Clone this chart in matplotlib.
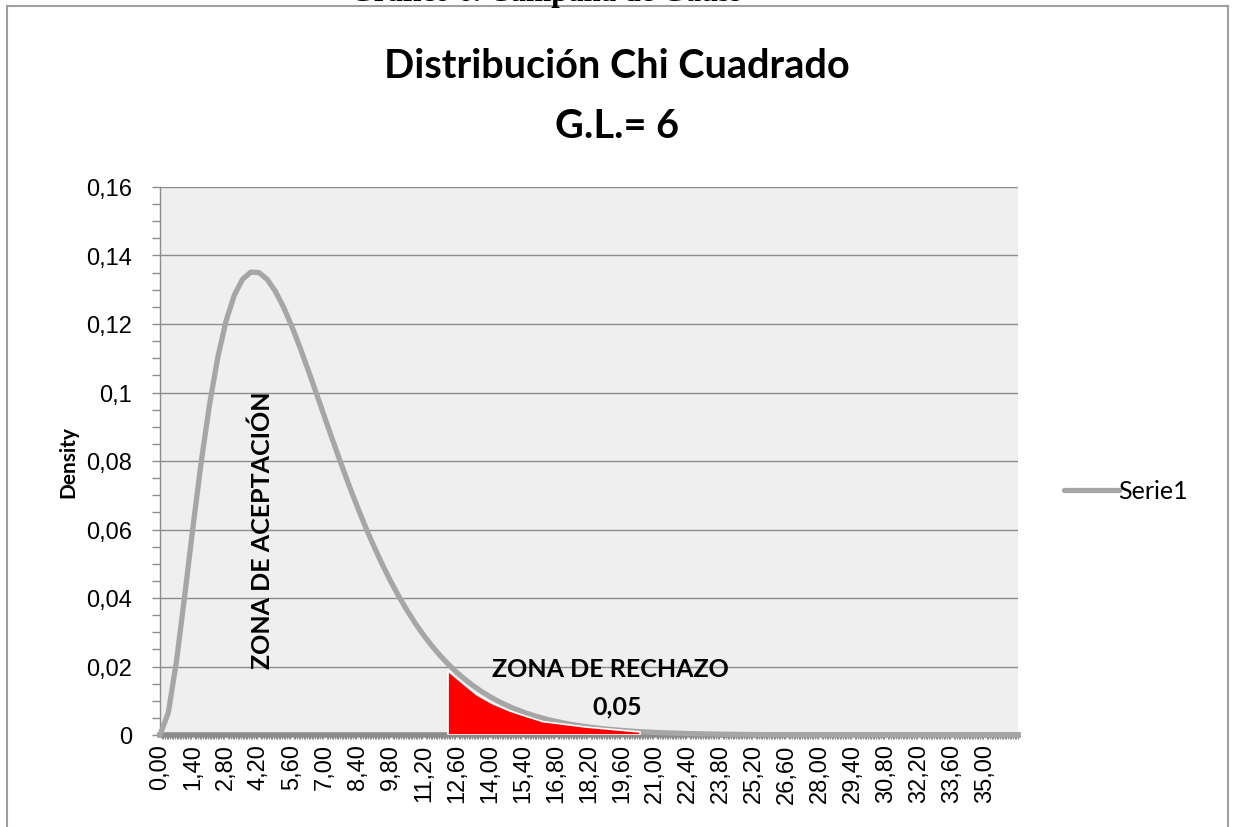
import numpy as np
import matplotlib
matplotlib.use("Agg")
import matplotlib.pyplot as plt
from matplotlib.lines import Line2D
from matplotlib.ticker import MultipleLocator, FixedLocator

# ---- data ----
x_step = 0.35
density = [0.0, 0.00643, 0.02158, 0.04076, 0.06083, 0.07979, 0.09645, 0.11021,
           0.12083, 0.12838, 0.13304, 0.13514, 0.13501, 0.13301, 0.12949,
           0.12479, 0.11919, 0.11295, 0.10630, 0.09942, 0.09248, 0.08559,
           0.07886, 0.07235, 0.06613, 0.06024, 0.05469, 0.04951, 0.04470,
           0.04025, 0.03616, 0.03241, 0.02899, 0.02588, 0.02306, 0.02052,
           0.01822, 0.01616, 0.01431, 0.01265, 0.01117, 0.00985, 0.00868,
           0.00764, 0.00671, 0.00589, 0.00517, 0.00453, 0.00397, 0.00347,
           0.00303, 0.00265, 0.00231, 0.00202, 0.00176, 0.00153, 0.00133,
           0.00116, 0.00101, 0.00087, 0.00076, 0.00066, 0.00057, 0.00050,
           0.00043, 0.00037, 0.00032, 0.00028, 0.00024, 0.00021, 0.00018,
           0.00016, 0.00013, 0.00012, 0.00010, 0.00009, 0.00007, 0.00006,
           0.00005, 0.00005, 0.00004, 0.00004, 0.00003, 0.00003, 0.00002,
           0.00002, 0.00002, 0.00001, 0.00001, 0.00001, 0.00001, 0.00001,
           0.00001, 0.0, 0.0, 0.0, 0.0, 0.0, 0.0, 0.0, 0.0, 0.0, 0.0, 0.0, 0.0]
x_vals = np.round(np.arange(len(density)) * x_step, 2)

xtick_vals = [0.0, 1.4, 2.8, 4.2, 5.6, 7.0, 8.4, 9.8, 11.2, 12.6, 14.0, 15.4,
              16.8, 18.2, 19.6, 21.0, 22.4, 23.8, 25.2, 26.6, 28.0, 29.4,
              30.8, 32.2, 33.6, 35.0]
xtick_labels = [f"{v:.2f}".replace(".", ",") for v in xtick_vals]
ytick_vals = [0, 0.02, 0.04, 0.06, 0.08, 0.1, 0.12, 0.14, 0.16]
ytick_labels = ["0", "0,02", "0,04", "0,06", "0,08", "0,1", "0,12", "0,14", "0,16"]

# rejection zone shape (drawn region)
rechazo_x = [12.22, 12.22, 12.9, 13.45, 14.1, 14.85, 15.6, 16.25, 18.1, 20.36, 20.36]
rechazo_y = [0.0, 0.0187, 0.0148, 0.0117, 0.0092, 0.0070, 0.0053, 0.0039,
             0.0023, 0.0009, 0.0]

series_name = "Serie1"

# ---- figure ----
W, H = 1234, 828
fig = plt.figure(figsize=(W / 100, H / 100), dpi=100)
fig.patch.set_facecolor("white")

ax = fig.add_axes([160 / W, 1 - 736 / H, (1018 - 160) / W, (736 - 188) / H])
ax.set_facecolor("#EFEFEF")

line_color = "#A6A6A6"
ax.plot(x_vals, density, color=line_color, lw=3.8, solid_capstyle="round",
        solid_joinstyle="round", label=series_name, zorder=3, clip_on=False)
ax.fill(rechazo_x, rechazo_y, facecolor="#FF0000", edgecolor="white", lw=1.2,
        zorder=4)

ax.set_xlim(0, 36.4)
ax.set_ylim(0, 0.16)

ax.yaxis.set_major_locator(FixedLocator(ytick_vals))
ax.set_yticklabels(ytick_labels, fontfamily="Liberation Sans", fontsize=17)
ax.yaxis.set_minor_locator(MultipleLocator(0.005))
ax.set_xticks(xtick_vals)
ax.set_xticklabels(xtick_labels, rotation=90, fontfamily="Liberation Sans",
                   fontsize=17)
ax.xaxis.set_minor_locator(MultipleLocator(0.07))

ax.tick_params(axis="y", which="both", length=6, width=1, color="#8C8C8C",
               direction="out", pad=14)
ax.tick_params(axis="x", which="major", length=0, pad=6)
ax.tick_params(axis="x", which="minor", length=3, width=0.8, color="#8C8C8C",
               direction="out")

ax.grid(axis="y", which="major", color="#8C8C8C", lw=1)
ax.set_axisbelow(True)
for s in ["top", "right"]:
    ax.spines[s].set_visible(False)
ax.spines["left"].set_color("#8C8C8C")
ax.spines["left"].set_linewidth(1)
ax.spines["bottom"].set_color("#8C8C8C")
ax.spines["bottom"].set_linewidth(4)
ax.spines["bottom"].set_zorder(2)

ax.set_ylabel("Density", fontfamily="Lato", fontweight="bold", fontsize=15,
              labelpad=6)

ax.text(4.33, 0.060, "ZONA DE ACEPTACIÓN", rotation=90, ha="center",
        va="center", fontfamily="Lato", fontweight="bold", fontsize=18,
        zorder=5)
ax.text(19.09, 0.0193, "ZONA DE RECHAZO", ha="center", va="center",
        fontfamily="Lato", fontweight="bold", fontsize=18, zorder=5)
ax.text(19.39, 0.0085, "0,05", ha="center", va="center",
        fontfamily="Lato", fontweight="bold", fontsize=18, zorder=5)

leg = ax.legend(loc="center left", bbox_to_anchor=(1041 / W, 1 - 492 / H),
                bbox_transform=fig.transFigure, frameon=False,
                handlelength=2.2, handletextpad=0.0,
                prop={"family": "Lato", "size": 18})

fig.text(0.5, 1 - 67 / H, "Distribución Chi Cuadrado", ha="center",
         va="center", fontfamily="Lato", fontweight="bold", fontsize=28.5)
fig.text(0.5, 1 - 127 / H, "G.L.= 6", ha="center", va="center",
         fontfamily="Lato", fontweight="bold", fontsize=28.5)

# clipped caption above the chart
fig.text(546 / W, 1 - 1 / H, "Grafico 6. Campana de Gauss", ha="center",
         va="baseline", fontfamily="Liberation Serif", fontweight="bold",
         fontsize=22)

# chart frame
frame_c = "#A0A0A0"
fig.add_artist(Line2D([7 / W, 1228 / W], [1 - 7 / H, 1 - 7 / H],
                      transform=fig.transFigure, color=frame_c, lw=1.5))
fig.add_artist(Line2D([7 / W, 7 / W], [0, 1 - 7 / H],
                      transform=fig.transFigure, color=frame_c, lw=1.5))
fig.add_artist(Line2D([1228 / W, 1228 / W], [0, 1 - 7 / H],
                      transform=fig.transFigure, color=frame_c, lw=1.5))

fig.savefig("out.png", dpi=100)
